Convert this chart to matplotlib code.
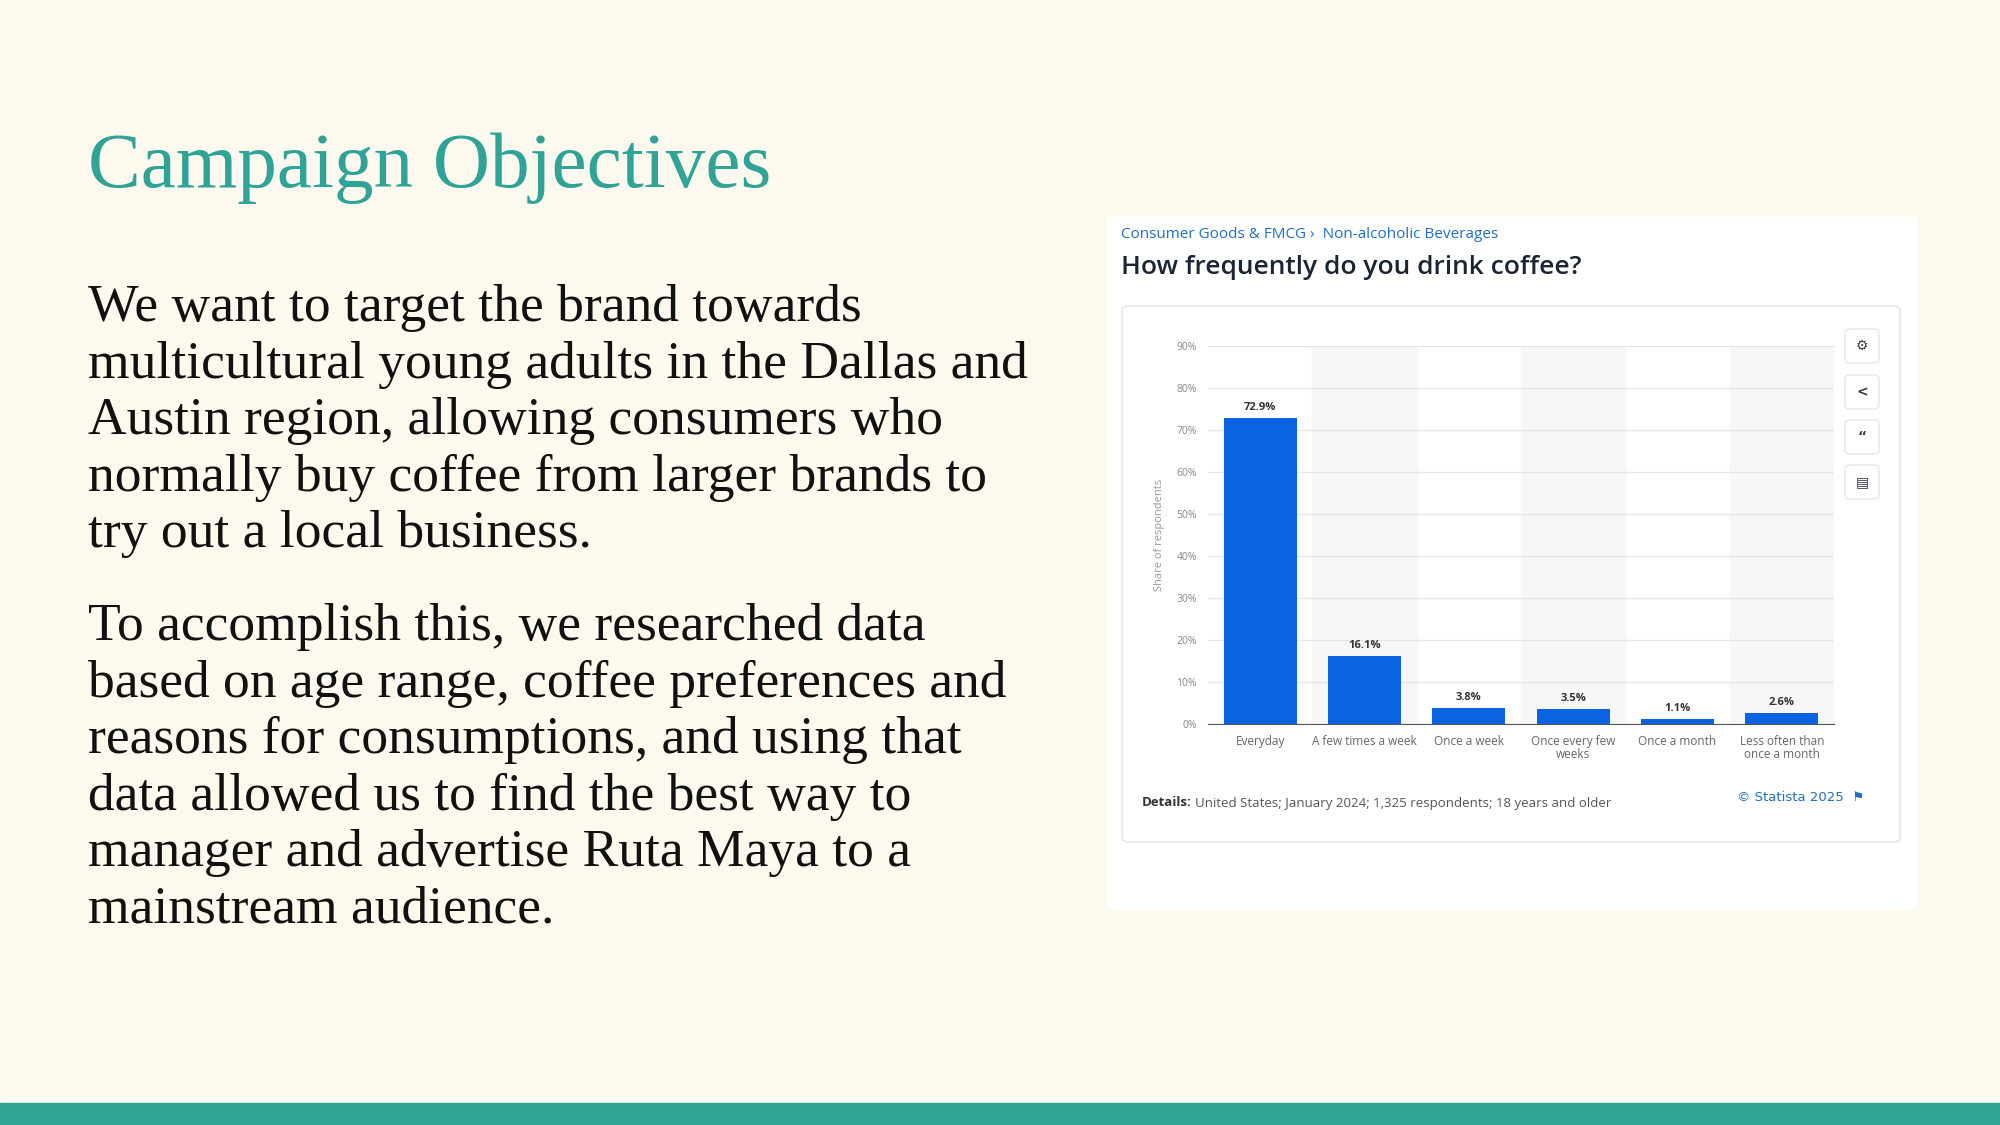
import matplotlib.pyplot as plt
from matplotlib.patches import Rectangle, FancyBboxPatch

W, H = 2000, 1125

categories = ['Everyday', 'A few times a week', 'Once a week',
              'Once every few\nweeks', 'Once a month', 'Less often than\nonce a month']
values = [72.9, 16.1, 3.8, 3.5, 1.1, 2.6]
yticks = [0, 10, 20, 30, 40, 50, 60, 70, 80, 90]

title = 'Campaign Objectives'
para1 = ('We want to target the brand towards\nmulticultural young adults in the Dallas and\n'
         'Austin region, allowing consumers who\nnormally buy coffee from larger brands to\n'
         'try out a local business.')
para2 = ('To accomplish this, we researched data\nbased on age range, coffee preferences and\n'
         'reasons for consumptions, and using that\ndata allowed us to find the best way to\n'
         'manager and advertise Ruta Maya to a\nmainstream audience.')

teal = '#2fa395'
bg = '#fdf9ee'


def fx(x):
    return x / W


def fy(y):
    return 1 - y / H


fig = plt.figure(figsize=(20, 11.25), dpi=100)
fig.patch.set_facecolor(bg)

# bottom band
fig.patches.append(Rectangle((0, 0), 1, fy(1103), transform=fig.transFigure, color=teal))

# slide text
fig.text(fx(88), fy(168), title, fontsize=57, color=teal, family='Liberation Serif',
         va='center', ha='left')
fig.text(fx(88), fy(284), para1, fontsize=38.5, color='#111111', family='Liberation Serif',
         va='top', ha='left', linespacing=1.23)
fig.text(fx(88), fy(603), para2, fontsize=38.5, color='#111111', family='Liberation Serif',
         va='top', ha='left', linespacing=1.23)

# screenshot panel
fig.patches.append(Rectangle((fx(1107), fy(908)), fx(1916 - 1107), (908 - 217) / H,
                             transform=fig.transFigure, color='white'))
fig.patches.append(FancyBboxPatch((fx(1122), fy(842)), fx(1900 - 1122), (842 - 306) / H,
                                  boxstyle='round,pad=0,rounding_size=0.004',
                                  transform=fig.transFigure, facecolor='white',
                                  edgecolor='#ebebeb', linewidth=1.5))
fig.text(fx(1121), fy(234), 'Consumer Goods & FMCG \u203a  Non-alcoholic Beverages',
         fontsize=11, color='#1f6fbf', family='Open Sans', va='center')
fig.text(fx(1121), fy(268), 'How frequently do you drink coffee?', fontsize=19,
         color='#1a2433', family='Open Sans', va='center', weight='semibold')
fig.text(fx(1142), fy(803), 'Details:', fontsize=9.5, color='#333333', family='Open Sans',
         weight='bold', va='center')
fig.text(fx(1195), fy(803), 'United States; January 2024; 1,325 respondents; 18 years and older',
         fontsize=9.5, color='#555555', family='Open Sans', va='center')
fig.text(fx(1864), fy(797), '\u00a9 Statista 2025  \u2691', fontsize=9.5, color='#1f6fbf',
         family='DejaVu Sans', va='center', ha='right')

# icon buttons
for yy, sym in zip([346, 392, 437, 482], ['\u2699', '<', '\u201c', '\u25a4']):
    fig.patches.append(FancyBboxPatch((fx(1845), fy(yy + 17)), fx(34), 34 / H,
                                      boxstyle='round,pad=0,rounding_size=0.003',
                                      transform=fig.transFigure, facecolor='white',
                                      edgecolor='#e6e6e6', linewidth=1))
    fig.text(fx(1862), fy(yy), sym, fontsize=10, color='#333a44', ha='center', va='center',
             family='DejaVu Sans', weight='bold')

# chart
ax = fig.add_axes([fx(1208), fy(724), fx(1834 - 1208), (724 - 346) / H])
ax.set_zorder(5)
ax.set_facecolor('white')
x = list(range(len(categories)))
for i in x:
    if i % 2 == 1:
        ax.axvspan(i - 0.5, i + 0.5, color='#f7f7f7', zorder=0)
ax.bar(x, values, width=0.7, color='#0a63e0', zorder=3)
for i, v in zip(x, values):
    ax.text(i, v + 1.2, f'{v}%', ha='center', va='bottom', fontsize=8, color='#333333',
            weight='bold', family='Open Sans')
ax.set_xlim(-0.5, len(categories) - 0.5)
ax.set_ylim(0, 90)
ax.set_yticks(yticks)
ax.set_yticklabels([f'{t}%' for t in yticks], fontsize=7.5, color='#888888', family='Open Sans')
ax.set_xticks(x)
ax.set_xticklabels(categories, fontsize=8.5, color='#666666', family='Open Sans', linespacing=1.0)
ax.grid(axis='y', color='#e6e6e6', linewidth=1, zorder=1)
ax.tick_params(length=0, pad=8)
for s in ['top', 'right', 'left']:
    ax.spines[s].set_visible(False)
ax.spines['bottom'].set_color('#555555')
ax.spines['bottom'].set_zorder(4)
ax.set_ylabel('Share of respondents', fontsize=8, color='#999999', family='Open Sans', labelpad=8)

fig.savefig('out.png', dpi=100, facecolor=bg)
